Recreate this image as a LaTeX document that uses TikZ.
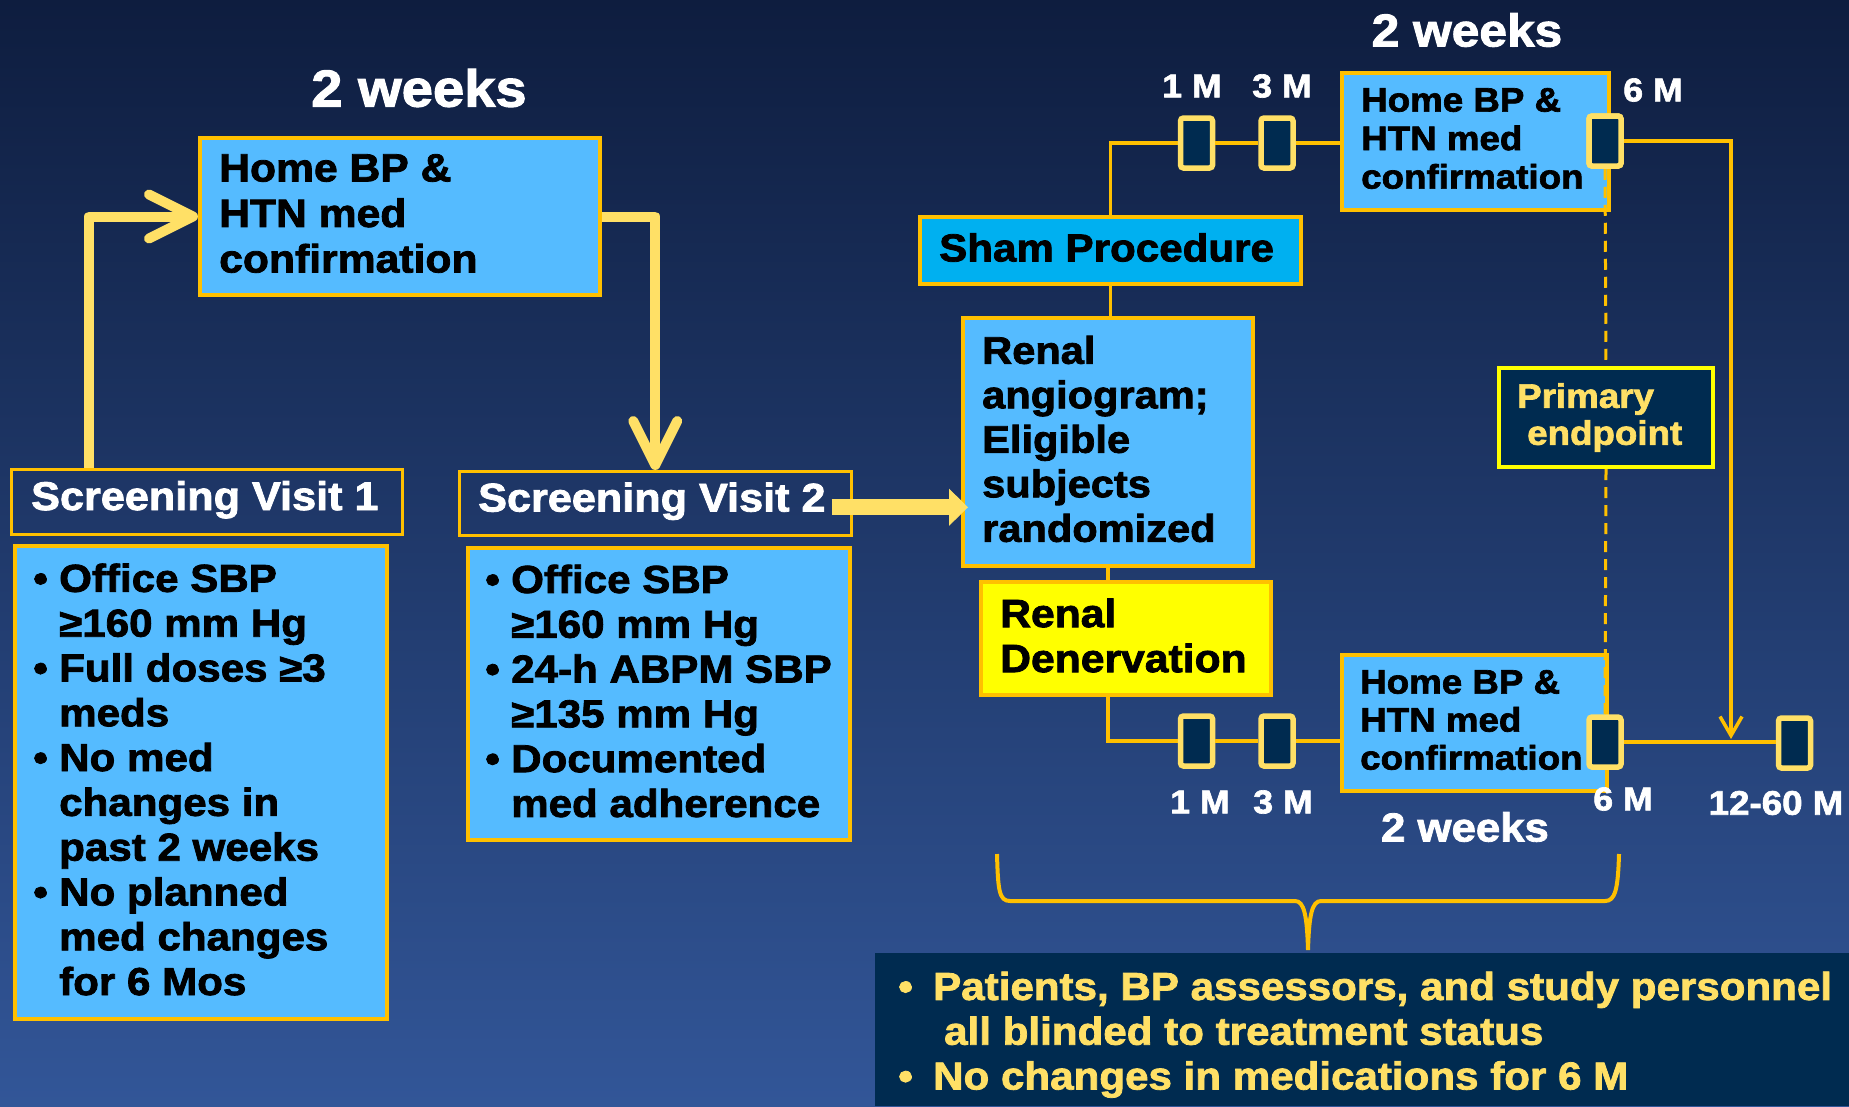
\documentclass[tikz,border=0pt]{standalone}
\usepackage{fontspec}
\usetikzlibrary{arrows.meta,calc}
\newfontfamily\hb{Liberation Sans Bold}[FakeStretch=1.08,FakeBold=2]
\newcommand\setfs[2]{\fontsize{#1}{#2}\selectfont}
\newcommand\bul{\makebox[26pt][l]{•}}
\newcommand\bulind{\hspace*{26pt}}
\definecolor{bgtop}{RGB}{14,29,63}
\definecolor{bgbot}{RGB}{50,86,152}
\definecolor{lblue}{RGB}{85,187,255}
\definecolor{orng}{RGB}{255,192,0}
\definecolor{pyel}{RGB}{255,224,102}
\definecolor{cyanb}{RGB}{0,176,240}
\definecolor{navyb}{RGB}{0,43,80}
\definecolor{yelb}{RGB}{255,255,0}
\begin{document}
\begin{tikzpicture}[x=1pt,y=-1pt,
  box/.style={draw=orng, line width=4pt, anchor=north west, inner sep=0pt},
  bluebox/.style={box, fill=lblue},
  svbox/.style={draw=orng, line width=2.5pt, anchor=north west, inner sep=0pt},
  txt/.style={anchor=west, inner sep=0pt, align=left, yshift=3pt},
  lbl/.style={text=white, inner sep=0pt},
  marker/.style={draw=pyel, fill=navyb, line width=5.5pt, rounded corners=3pt, minimum width=32pt, minimum height=50pt, inner sep=0pt},
  conn/.style={draw=orng, line width=3.5pt},
  bigarrow/.style={draw=pyel, line width=10pt, line join=round}
]
\useasboundingbox (0,0) rectangle (1849,1106);
\fill[top color=bgtop, bottom color=bgbot] (0,0) rectangle (1849,1106);

% ---------- left part ----------
\node[bluebox, minimum width=400pt, minimum height=157pt] (h1) at (198,136) {};
\node[txt, font={\hb\setfs{39.5pt}{45.5pt}}] (h1t) at ([xshift=21pt]h1.west) {Home BP \&\\HTN med\\confirmation};

\node[svbox, minimum width=391pt, minimum height=65pt] (sv1) at (10,468) {};
\node[txt, yshift=-1pt, text=white, font={\hb\setfs{40pt}{42pt}}] (sv1t) at ([xshift=21pt]sv1.west) {Screening Visit 1};

\node[svbox, minimum width=392pt, minimum height=64pt] (sv2) at (458,470) {};
\node[txt, yshift=-1pt, text=white, font={\hb\setfs{40pt}{42pt}}] (sv2t) at ([xshift=20pt]sv2.west) {Screening Visit 2};

\node[bluebox, minimum width=372pt, minimum height=473pt] (l1) at (13,544) {};
\node[txt, font={\hb\setfs{39pt}{44.8pt}}] (l1t) at ([xshift=20pt]l1.west)
 {\bul Office SBP\\\bulind ≥160 mm Hg\\\bul Full doses ≥3\\\bulind meds\\\bul No med\\\bulind changes in\\\bulind past 2 weeks\\\bul No planned\\\bulind med changes\\\bulind for 6 Mos};

\node[bluebox, minimum width=382pt, minimum height=292pt] (l2) at (466,546) {};
\node[txt, font={\hb\setfs{39pt}{44.8pt}}] (l2t) at ([xshift=19pt]l2.west)
 {\bul Office SBP\\\bulind ≥160 mm Hg\\\bul 24-h ABPM SBP\\\bulind ≥135 mm Hg\\\bul Documented\\\bulind med adherence};

\node[lbl, font={\hb\setfs{52pt}{52pt}}] (w1) at (419,88) {2 weeks};

\draw[bigarrow, -{Straight Barb[length=44pt,width=44pt,round]}] ([xshift=79pt]sv1.north west) |- (h1.west);
\draw[bigarrow, -{Straight Barb[length=44pt,width=44pt,round]}] (h1.east) -| (sv2.north);

% ---------- right part ----------
\node[box, fill=cyanb, minimum width=381pt, minimum height=67pt] (sham) at (918,215) {};
\node[txt, font={\hb\setfs{39pt}{42pt}}] (shamt) at ([xshift=21pt]sham.west) {Sham Procedure};

\node[bluebox, minimum width=290pt, minimum height=248pt] (rand) at (961,316) {};
\node[txt, font={\hb\setfs{38.5pt}{44.5pt}}] (randt) at ([xshift=21pt]rand.west) {Renal\\angiogram;\\Eligible\\subjects\\randomized};

\node[box, fill=yelb, minimum width=290pt, minimum height=113pt] (den) at (979,580) {};
\node[txt, font={\hb\setfs{39.5pt}{45pt}}] (dent) at ([xshift=21pt]den.west) {Renal\\Denervation};

\node[bluebox, minimum width=267pt, minimum height=137pt] (h2) at (1340,71) {};
\node[txt, font={\hb\setfs{34pt}{38.5pt}}] (h2t) at ([xshift=21pt]h2.west) {Home BP \&\\HTN med\\confirmation};

\node[bluebox, minimum width=265pt, minimum height=136pt] (h3) at (1340,653) {};
\node[txt, font={\hb\setfs{34pt}{38pt}}] (h3t) at ([xshift=20pt]h3.west) {Home BP \&\\HTN med\\confirmation};

\node[draw=yelb, fill=navyb, line width=4pt, anchor=north west, inner sep=0pt, minimum width=214pt, minimum height=99pt] (pe) at (1497,366) {};
\node[txt, yshift=-3pt, text=pyel, font={\hb\setfs{34pt}{37pt}}] (pet) at ([xshift=20pt]pe.west) {Primary\\\hspace*{10pt}endpoint};

\node[fill=navyb, anchor=north west, inner sep=0pt, minimum width=974pt, minimum height=153pt] (bb) at (875,953) {};
\node[txt, yshift=-8pt, text=pyel, font={\hb\setfs{39pt}{44.8pt}}] (bbt) at ([xshift=23pt]bb.west)
 {\makebox[35pt][l]{•}Patients, BP assessors, and study personnel\\\hspace*{46pt}all blinded to treatment status\\\makebox[35pt][l]{•}No changes in medications for 6 M};

% connectors
\draw[conn] (sham.north) |- (1196.5,143) coordinate (c1);
\draw[conn] (sham.south) -- (sham.south |- rand.north);
\draw[conn] (rand.south) -- (rand.south |- den.north);
\draw[conn] (rand.south |- den.south) |- (1196.5,741) coordinate (c4);

\node[marker] (m1) at (1196.5,143) {};
\node[marker] (m2) at (1277,143) {};
\node[marker] (m4) at (1196.5,741) {};
\node[marker] (m5) at (1277,741) {};
\draw[conn] (m1.east) -- (m2.west);
\draw[conn] (m2.east) -- (m2.east -| h2.west);
\draw[conn] (m4.east) -- (m5.west);
\draw[conn] (m5.east) -- (m5.east -| h3.west);

\node[marker] (m3) at (1605,141) {};
\node[marker] (m6) at (1605,742) {};
\node[marker] (m7) at (1794.5,743) {};
\draw[conn, line width=3pt, dash pattern=on 11pt off 7pt] (m3.south) -- (pe.north);
\draw[conn, line width=3pt, dash pattern=on 11pt off 7pt] (pe.south) -- (m6.north);
\draw[conn] (m6.east) -- (m6.east -| m7.west);
\coordinate (dn) at (1731,739);
\draw[conn, -{Straight Barb[length=19pt,width=22pt]}] (m3.east) -| (dn);
\node[marker] (m3b) at (1605,141) {};

% big arrow into randomization
\coordinate (s2a) at ([xshift=-21pt,yshift=-4pt]sv2.east);
\draw[draw=pyel, line width=16pt, -{Triangle[length=19pt,width=37pt,line width=1pt]}] (s2a) -- ([xshift=7pt]s2a -| rand.west);

% brace
\draw[conn, line width=4pt] (997,854) .. controls (998,890) and (999,901) .. (1010,901) -- (1295,901)
  .. controls (1304,901) and (1307,915) .. (1308,950)
  .. controls (1309,915) and (1312,901) .. (1321,901) -- (1605,901)
  .. controls (1615,901) and (1618,890) .. (1619,854);

% labels
\node[lbl, font={\hb\setfs{46pt}{46pt}}] (w2) at (1467,30) {2 weeks};
\node[lbl, font={\hb\setfs{40.5pt}{40.5pt}}] (w3) at (1465,827) {2 weeks};
\node[lbl, font={\hb\setfs{33pt}{33pt}}] (t1) at (1192,86) {1 M};
\node[lbl, font={\hb\setfs{33pt}{33pt}}] (t3) at (1282,86) {3 M};
\node[lbl, font={\hb\setfs{33pt}{33pt}}] (t6) at (1653,90) {6 M};
\node[lbl, font={\hb\setfs{33pt}{33pt}}] (b1) at (1200,802) {1 M};
\node[lbl, font={\hb\setfs{33pt}{33pt}}] (b3) at (1283,802) {3 M};
\node[lbl, font={\hb\setfs{33pt}{33pt}}] (b6) at (1623,799) {6 M};
\node[lbl, font={\hb\setfs{34pt}{34pt}}] (b12) at (1776,803) {12-60 M};
\end{tikzpicture}
\end{document}
